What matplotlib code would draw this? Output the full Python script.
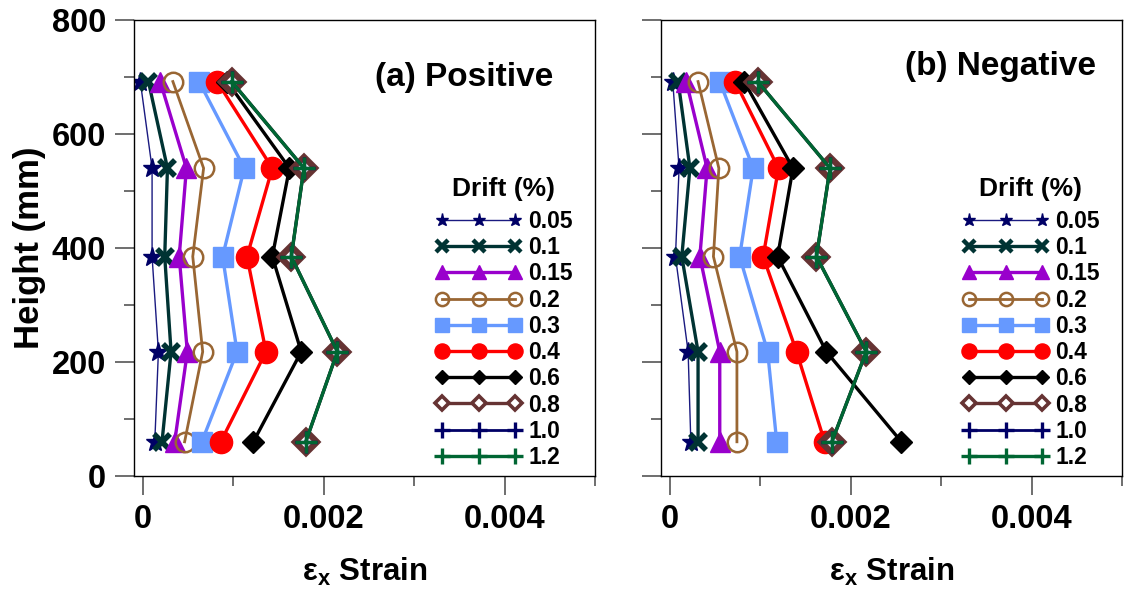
import matplotlib
matplotlib.use("Agg")
import matplotlib.pyplot as plt
from matplotlib.ticker import FixedLocator, FixedFormatter

plt.rcParams["font.family"] = ["Liberation Sans", "DejaVu Sans"]
plt.rcParams["font.weight"] = "bold"
plt.rcParams["mathtext.fontset"] = "custom"
plt.rcParams["mathtext.rm"] = "Liberation Sans"
plt.rcParams["mathtext.bf"] = "Liberation Sans:bold"
plt.rcParams["mathtext.it"] = "Liberation Sans:italic"

# Gauge heights (mm), bottom to top
heights = [60, 218, 385, 540, 692]

drift_labels = ["0.05", "0.1", "0.15", "0.2", "0.3", "0.4", "0.6", "0.8", "1.0", "1.2"]

# Strain readings for positive loading, one list per drift level (bottom to top)
pos_005 = [0.00013, 0.00017, 0.00010, 0.00010, -0.00003]
pos_01 = [0.00021, 0.00031, 0.00024, 0.00027, 0.00006]
pos_015 = [0.00035, 0.00049, 0.00040, 0.00048, 0.00019]
pos_02 = [0.00046, 0.00066, 0.00055, 0.00067, 0.00033]
pos_03 = [0.00065, 0.00104, 0.00088, 0.00112, 0.00062]
pos_04 = [0.00086, 0.00136, 0.00115, 0.00143, 0.00082]
pos_06 = [0.00122, 0.00175, 0.00143, 0.00162, 0.00093]
pos_08 = [0.00180, 0.00215, 0.00164, 0.00178, 0.00098]
pos_10 = [0.00180, 0.00215, 0.00164, 0.00178, 0.00098]
pos_12 = [0.00180, 0.00215, 0.00164, 0.00178, 0.00098]

# Strain readings for negative loading
neg_005 = [0.00023, 0.00020, 0.00006, 0.00010, 0.00003]
neg_01 = [0.00031, 0.00031, 0.00013, 0.00022, 0.00009]
neg_015 = [0.00055, 0.00055, 0.00033, 0.00041, 0.00018]
neg_02 = [0.00074, 0.00074, 0.00048, 0.00054, 0.00031]
neg_03 = [0.00118, 0.00108, 0.00077, 0.00092, 0.00055]
neg_04 = [0.00171, 0.00140, 0.00103, 0.00120, 0.00072]
neg_06 = [0.00256, 0.00173, 0.00119, 0.00136, 0.00082]
neg_08 = [0.00179, 0.00217, 0.00162, 0.00177, 0.00097]
neg_10 = [0.00179, 0.00217, 0.00162, 0.00177, 0.00097]
neg_12 = [0.00179, 0.00217, 0.00162, 0.00177, 0.00097]

positive = [pos_005, pos_01, pos_015, pos_02, pos_03, pos_04, pos_06, pos_08, pos_10, pos_12]
negative = [neg_005, neg_01, neg_015, neg_02, neg_03, neg_04, neg_06, neg_08, neg_10, neg_12]

# Line / marker style for each drift level
styles = [
    dict(color="#1a1a80", lw=1.0, marker="*", ms=14, mfc="#000066", mec="#000066"),
    dict(color="#003333", lw=2.4, marker="x", ms=12, mew=4, mec="#003333"),
    dict(color="#9900cc", lw=2.4, marker="^", ms=14, mfc="#9900cc", mec="#9900cc"),
    dict(color="#996633", lw=2.0, marker="o", ms=14, mfc="none", mec="#996633", mew=1.8),
    dict(color="#6699ff", lw=2.4, marker="s", ms=14, mfc="#6699ff", mec="#6699ff"),
    dict(color="#ff0000", lw=2.4, marker="o", ms=16, mfc="#ff0000", mec="#ff0000"),
    dict(color="#000000", lw=2.4, marker="D", ms=11, mfc="#000000", mec="#000000"),
    dict(color="#663333", lw=2.4, marker="D", ms=11, mfc="white", mec="#663333", mew=4.5),
    dict(color="#000066", lw=2.0, marker="+", ms=16, mec="#000066", mew=2.4),
    dict(color="#006633", lw=2.4, marker="+", ms=16, mec="#006633", mew=2.4),
]

W, H = 1125, 594
fig = plt.figure(figsize=(W / 100, H / 100), dpi=100)

ax_a = fig.add_axes([134 / W, (H - 476) / H, 461 / W, 456 / H])
ax_b = fig.add_axes([661 / W, (H - 476) / H, 461 / W, 456 / H])

tick_gray = "#555555"
leg_fs = 16.5
leg_spacing = 0.14

for ax, data, title, tx, ty in [(ax_a, positive, "(a) Positive", 0.523, 0.873),
                                (ax_b, negative, "(b) Negative", 0.529, 0.899)]:
    for vals, lab, st in zip(data, drift_labels, styles):
        ax.plot(vals, heights, label=lab, **st)

    ax.set_xlim(-0.0001, 0.005)
    ax.set_ylim(0, 800)

    ax.xaxis.set_major_locator(FixedLocator([0, 0.002, 0.004]))
    ax.xaxis.set_major_formatter(FixedFormatter(["0", "0.002", "0.004"]))
    ax.xaxis.set_minor_locator(FixedLocator([0.001, 0.003, 0.005]))
    ax.yaxis.set_major_locator(FixedLocator([0, 200, 400, 600, 800]))
    ax.yaxis.set_minor_locator(FixedLocator([100, 300, 500, 700]))

    ax.tick_params(which="both", direction="out", top=False, right=False,
                   color=tick_gray, width=1.2, labelsize=23.5)
    ax.tick_params(which="major", length=14, pad=6)
    ax.tick_params(which="minor", length=7)
    for sp in ax.spines.values():
        sp.set_linewidth(1.0)
        sp.set_color("black")

    ax.set_xlabel(r"$\mathrm{\varepsilon}_{\mathbf{x}}$ Strain", fontsize=22.5,
                  fontweight="bold", labelpad=15.5)
    ax.text(tx, ty, title, transform=ax.transAxes,
            fontsize=24, fontweight="bold", ha="left", va="center")

    leg = ax.legend(title="Drift (%)", loc="upper left",
                    bbox_to_anchor=(0.653, 0.656), frameon=False,
                    borderpad=0, borderaxespad=0, handlelength=3.8,
                    handletextpad=0.27, labelspacing=leg_spacing, numpoints=3,
                    markerscale=0.68, fontsize=leg_fs, title_fontsize=19)
    leg.get_title().set_fontweight("bold")
    # extra gap between the legend title and the first entry
    leg._legend_box.sep = leg_spacing * leg_fs + 4.3
    # thinner outline for the open diamond in the key
    leg.legend_handles[7].set_markeredgewidth(2.6)
    leg.legend_handles[1].set_markeredgewidth(3.2)

ax_a.set_yticklabels(["0", "200", "400", "600", "800"])
ax_b.tick_params(axis="y", labelleft=False)
ax_a.set_ylabel("Height (mm)", fontsize=25, fontweight="bold", labelpad=4)

fig.savefig("out.png", dpi=100)
